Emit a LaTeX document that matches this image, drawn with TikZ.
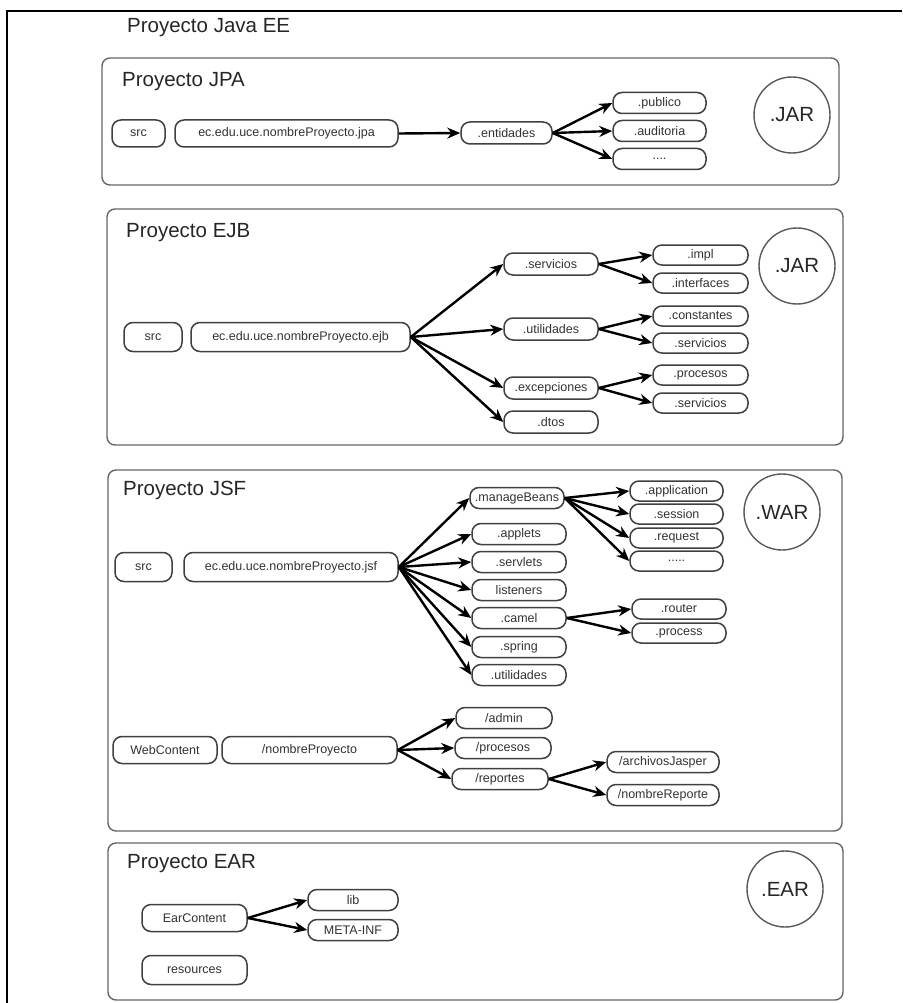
\documentclass[tikz,border=0pt]{standalone}
\usepackage{fontspec}
\setmainfont{Liberation Sans}
\usetikzlibrary{arrows.meta}

\begin{document}
\begin{tikzpicture}[x=1pt,y=-1pt]
            \tikzstyle{every node}+=[inner sep=0pt]
            \tikzstyle{pkg}=[draw=black!75, line width=1.5pt, rounded corners=9pt, minimum height=21pt, font=\fontsize{12.5}{12.5}\selectfont, text=black!80]
            \tikzstyle{ptitle}=[anchor=west, font=\fontsize{20.5}{20.5}\selectfont, text=black!85]
            \tikzstyle{pack}=[circle, draw=black!65, line width=1.4pt, minimum size=76pt, font=\fontsize{20.5}{20.5}\selectfont, text=black!85]
            \tikzstyle{sect}=[draw=black!60, line width=1.4pt, rounded corners=8pt]
            \tikzstyle{arr}=[line width=2.4pt, -{Stealth[length=13pt,width=11pt]}]
            \useasboundingbox (0,0) rectangle (902,1003);
            \fill [white] (0,0) rectangle (902,1003);
            \draw [line width=1.8pt] (7,1003) -- (7,11) -- (902,11);
            \draw (127,28) node [ptitle] (javaee) {Proyecto Java EE};
            % JPA
            \draw [sect] (102,58) rectangle (839,185);
            \draw (122,82) node [ptitle] (jpatitle) {Proyecto JPA};
            \draw (138.5,133.5) node [pkg, minimum width=53pt, minimum height=27pt] (jpasrc) {src};
            \draw (286.5,133.5) node [pkg, minimum width=223pt, minimum height=27pt] (jpapkg) {ec.edu.uce.nombreProyecto.jpa};
            \draw (506.5,133) node [pkg, minimum width=91pt, minimum height=22pt] (jpaent) {.entidades};
            \draw (659.5,103) node [pkg, minimum width=93pt] (jpapub) {.publico};
            \draw (659.5,131) node [pkg, minimum width=93pt] (jpaaud) {.auditoria};
            \draw (659.5,159) node [pkg, minimum width=93pt] (jpadots) {....};
            \draw (792,115) node [pack] (jpajar) {.JAR};
            \draw [arr] (jpapkg.east) -- (jpaent.west);
            \draw [arr] (jpaent.east) -- (jpapub.west);
            \draw [arr] (jpaent.east) -- (jpaaud.west);
            \draw [arr] (jpaent.east) -- (jpadots.west);
            % EJB
            \draw [sect] (107,209) rectangle (843,445);
            \draw (126,233) node [ptitle] (ejbtitle) {Proyecto EJB};
            \draw (153,337) node [pkg, minimum width=58pt, minimum height=29pt] (ejbsrc) {src};
            \draw (300.5,337) node [pkg, minimum width=219pt, minimum height=29pt] (ejbpkg) {ec.edu.uce.nombreProyecto.ejb};
            \draw (551,264) node [pkg, minimum width=94pt, minimum height=22pt] (ejbserv) {.servicios};
            \draw (551,329) node [pkg, minimum width=94pt, minimum height=22pt] (ejbutil) {.utilidades};
            \draw (551,388) node [pkg, minimum width=94pt, minimum height=22pt] (ejbexc) {.excepciones};
            \draw (551,422) node [pkg, minimum width=94pt, minimum height=22pt] (ejbdtos) {.dtos};
            \draw (700.5,255) node [pkg, minimum width=95pt, minimum height=20pt] (ejbimpl) {.impl};
            \draw (700.5,283) node [pkg, minimum width=95pt, minimum height=20pt] (ejbintf) {.interfaces};
            \draw (700.5,316) node [pkg, minimum width=95pt, minimum height=20pt] (ejbcons) {.constantes};
            \draw (700.5,343) node [pkg, minimum width=95pt, minimum height=20pt] (ejbservb) {.servicios};
            \draw (700.5,375) node [pkg, minimum width=95pt, minimum height=20pt] (ejbproc) {.procesos};
            \draw (700.5,403) node [pkg, minimum width=95pt, minimum height=20pt] (ejbservc) {.servicios};
            \draw (797,266) node [pack] (ejbjar) {.JAR};
            \draw [arr] (ejbpkg.east) -- (ejbserv.west);
            \draw [arr] (ejbpkg.east) -- (ejbutil.west);
            \draw [arr] (ejbpkg.east) -- (ejbexc.west);
            \draw [arr] (ejbpkg.east) -- (ejbdtos.west);
            \draw [arr] (ejbserv.east) -- (ejbimpl.west);
            \draw [arr] (ejbserv.east) -- (ejbintf.west);
            \draw [arr] (ejbutil.east) -- (ejbcons.west);
            \draw [arr] (ejbutil.east) -- (ejbservb.west);
            \draw [arr] (ejbexc.east) -- (ejbproc.west);
            \draw [arr] (ejbexc.east) -- (ejbservc.west);
            % JSF
            \draw [sect] (108,470) rectangle (842,831);
            \draw (123,490) node [ptitle] (jsftitle) {Proyecto JSF};
            \draw (143.5,567) node [pkg, minimum width=57pt, minimum height=29pt] (jsfsrc) {src};
            \draw (291,567) node [pkg, minimum width=214pt, minimum height=29pt] (jsfpkg) {ec.edu.uce.nombreProyecto.jsf};
            \draw (517,498) node [pkg, minimum width=94pt] (jsfmb) {.manageBeans};
            \draw (519,534) node [pkg, minimum width=94pt] (jsfapp) {.applets};
            \draw (519,562) node [pkg, minimum width=94pt] (jsfserv) {.servlets};
            \draw (519,590) node [pkg, minimum width=94pt] (jsflist) {listeners};
            \draw (519,618) node [pkg, minimum width=94pt] (jsfcamel) {.camel};
            \draw (519,647) node [pkg, minimum width=94pt] (jsfspring) {.spring};
            \draw (519,675) node [pkg, minimum width=94pt] (jsfutil) {.utilidades};
            \draw (676.5,491) node [pkg, minimum width=93pt, minimum height=20pt] (jsfappl) {.application};
            \draw (676.5,514) node [pkg, minimum width=93pt, minimum height=20pt] (jsfsess) {.session};
            \draw (676.5,538) node [pkg, minimum width=93pt, minimum height=20pt] (jsfreq) {.request};
            \draw (676.5,561) node [pkg, minimum width=93pt, minimum height=20pt] (jsfdots) {.....};
            \draw (679,609) node [pkg, minimum width=94pt, minimum height=20pt] (jsfrouter) {.router};
            \draw (679,633) node [pkg, minimum width=94pt, minimum height=20pt] (jsfproc) {.process};
            \draw (782,512) node [pack] (jsfwar) {.WAR};
            \draw [arr] (jsfpkg.east) -- (jsfmb.west);
            \draw [arr] (jsfpkg.east) -- (jsfapp.west);
            \draw [arr] (jsfpkg.east) -- (jsfserv.west);
            \draw [arr] (jsfpkg.east) -- (jsflist.west);
            \draw [arr] (jsfpkg.east) -- (jsfcamel.west);
            \draw [arr] (jsfpkg.east) -- (jsfspring.west);
            \draw [arr] (jsfpkg.east) -- (jsfutil.west);
            \draw [arr] (jsfmb.east) -- (jsfappl.west);
            \draw [arr] (jsfmb.east) -- (jsfsess.west);
            \draw [arr] (jsfmb.east) -- (jsfreq.west);
            \draw [arr] (jsfmb.east) -- (jsfdots.west);
            \draw [arr] (jsfcamel.east) -- (jsfrouter.west);
            \draw [arr] (jsfcamel.east) -- (jsfproc.west);
            \draw (165,750) node [pkg, minimum width=104pt, minimum height=27pt] (jsfweb) {WebContent};
            \draw (309.5,750) node [pkg, minimum width=175pt, minimum height=27pt] (jsfnp) {/nombreProyecto};
            \draw (504,718) node [pkg, minimum width=96pt] (jsfadmin) {/admin};
            \draw (503,748) node [pkg, minimum width=96pt] (jsfprocs) {/procesos};
            \draw (500,779) node [pkg, minimum width=96pt] (jsfrep) {/reportes};
            \draw (663,762) node [pkg, minimum width=112pt] (jsfjasper) {/archivosJasper};
            \draw (663,795) node [pkg, minimum width=112pt] (jsfnrep) {/nombreReporte};
            \draw [arr] (jsfnp.east) -- (jsfadmin.west);
            \draw [arr] (jsfnp.east) -- (jsfprocs.west);
            \draw [arr] (jsfnp.east) -- (jsfrep.west);
            \draw [arr] (jsfrep.east) -- (jsfjasper.west);
            \draw [arr] (jsfrep.east) -- (jsfnrep.west);
            % EAR
            \draw [sect] (108,843) rectangle (843,1000);
            \draw (127,864) node [ptitle] (eartitle) {Proyecto EAR};
            \draw (194.5,918) node [pkg, minimum width=105pt, minimum height=27pt] (earcont) {EarContent};
            \draw (353,900) node [pkg, minimum width=90pt] (earlib) {lib};
            \draw (353,930) node [pkg, minimum width=90pt] (earmeta) {META-INF};
            \draw (194.5,970) node [pkg, minimum width=105pt, minimum height=29pt] (earres) {resources};
            \draw (785,889) node [pack] (earear) {.EAR};
            \draw [arr] (earcont.east) -- (earlib.west);
            \draw [arr] (earcont.east) -- (earmeta.west);
\end{tikzpicture}
\end{document}
